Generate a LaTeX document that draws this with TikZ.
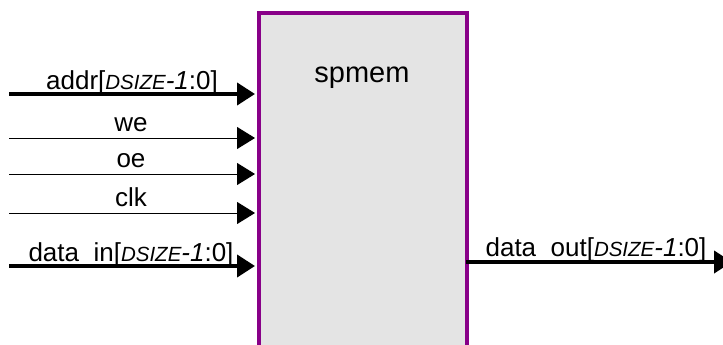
\documentclass[tikz,border=0pt]{standalone}
\usepackage{fontspec}
\setmainfont{Liberation Sans}
\usetikzlibrary{arrows.meta}
\definecolor{boxfill}{HTML}{E4E4E4}
\definecolor{boxedge}{HTML}{880088}
\newcommand\busw{{\fontsize{20.5}{24}\selectfont\itshape DSIZE}\textit{-1}}
\tikzset{
  sig/.style={line width=1pt, -{Triangle[length=18pt,width=22pt]}},
  bus/.style={line width=4pt, -{Triangle[length=18pt,width=22pt]}},
  lbl/.style={anchor=base, inner sep=0pt, font=\fontsize{26}{31}\selectfont},
}
\begin{document}
\begin{tikzpicture}[x=1pt,y=-1pt]
\useasboundingbox (0,0) rectangle (723,345);
\begin{scope}
\clip (0,0) rectangle (723,345);
% memory block
\node (spmem) [draw=boxedge, fill=boxfill, line width=4pt, minimum width=207.5pt,
  minimum height=360pt, inner sep=0pt, anchor=north west] at (257,11) {};
\node (title) [lbl, font=\fontsize{29}{34}\selectfont] at (362,83) {spmem};
% labels (bus underscores sit on the wire)
\node (laddr) [lbl] at (132,89) {addr[\busw:0]};
\node (lwe)   [lbl] at (131,131.5) {we};
\node (loe)   [lbl] at (131,167) {oe};
\node (lclk)  [lbl] at (131,206) {clk};
\node (ldin)  [lbl] at (131,261.5) {data\_in[\busw:0]};
\node (ldout) [lbl] at (596,256.5) {data\raisebox{-1.5pt}{\_}out[\busw:0]};
% port ends
\coordinate (addr0) at (9,94);   \coordinate (addr1) at (255,94);
\coordinate (we0)   at (9,138);  \coordinate (we1)   at (255,138);
\coordinate (oe0)   at (9,174);  \coordinate (oe1)   at (255,174);
\coordinate (clk0)  at (9,213);  \coordinate (clk1)  at (255,213);
\coordinate (din0)  at (9,266);  \coordinate (din1)  at (255,266);
\coordinate (dout0) at (466,262);\coordinate (dout1) at (732,262);
% inputs
\draw[bus] (addr0) -- (addr1);
\draw[sig] (we0) -- (we1);
\draw[sig] (oe0) -- (oe1);
\draw[sig] (clk0) -- (clk1);
\draw[bus] (din0) -- (din1);
% output
\draw[bus] (dout0) -- (dout1);
\end{scope}
\end{tikzpicture}
\end{document}
